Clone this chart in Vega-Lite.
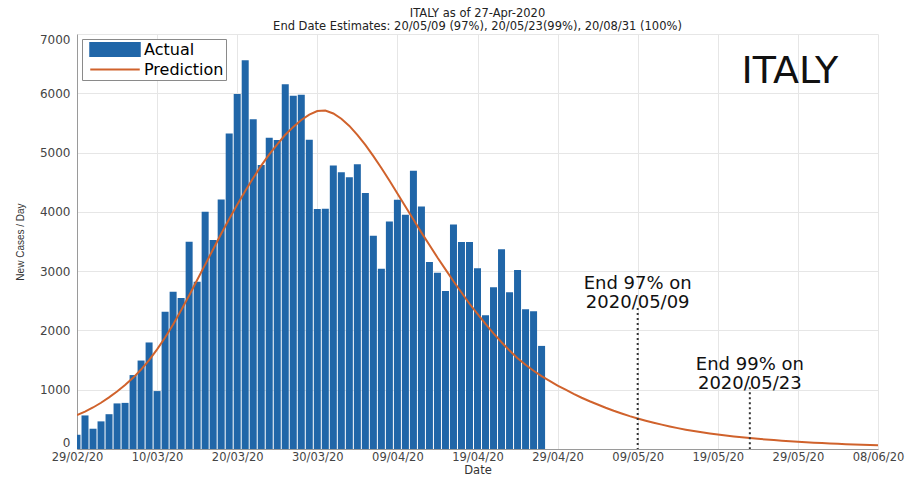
{
  "$schema": "https://vega.github.io/schema/vega-lite/v6.json",
  "width": 801,
  "height": 415,
  "autosize": "none",
  "padding": {"left": 77, "top": 34, "right": 33, "bottom": 28},
  "background": "white",
  "config": {"view": {"stroke": null}, "font": "DejaVu Sans"},
  "title": {
    "text": "ITALY as of 27-Apr-2020",
    "subtitle": "End Date Estimates: 20/05/09 (97%), 20/05/23(99%), 20/08/31 (100%)",
    "font": "DejaVu Sans", "subtitleFont": "DejaVu Sans",
    "fontSize": 11.5, "subtitleFontSize": 11.5,
    "fontWeight": "normal", "color": "#222", "subtitleColor": "#222",
    "anchor": "middle", "frame": "group", "offset": 1, "subtitlePadding": 1
  },
  "datasets": {
    "actual": [
      {"date": "2020-02-29", "cases": 240},
      {"date": "2020-03-01", "cases": 566},
      {"date": "2020-03-02", "cases": 342},
      {"date": "2020-03-03", "cases": 466},
      {"date": "2020-03-04", "cases": 587},
      {"date": "2020-03-05", "cases": 769},
      {"date": "2020-03-06", "cases": 778},
      {"date": "2020-03-07", "cases": 1247},
      {"date": "2020-03-08", "cases": 1492},
      {"date": "2020-03-09", "cases": 1797},
      {"date": "2020-03-10", "cases": 977},
      {"date": "2020-03-11", "cases": 2313},
      {"date": "2020-03-12", "cases": 2651},
      {"date": "2020-03-13", "cases": 2547},
      {"date": "2020-03-14", "cases": 3497},
      {"date": "2020-03-15", "cases": 2823},
      {"date": "2020-03-16", "cases": 4000},
      {"date": "2020-03-17", "cases": 3526},
      {"date": "2020-03-18", "cases": 4207},
      {"date": "2020-03-19", "cases": 5322},
      {"date": "2020-03-20", "cases": 5986},
      {"date": "2020-03-21", "cases": 6557},
      {"date": "2020-03-22", "cases": 5560},
      {"date": "2020-03-23", "cases": 4789},
      {"date": "2020-03-24", "cases": 5249},
      {"date": "2020-03-25", "cases": 5210},
      {"date": "2020-03-26", "cases": 6153},
      {"date": "2020-03-27", "cases": 5959},
      {"date": "2020-03-28", "cases": 5974},
      {"date": "2020-03-29", "cases": 5217},
      {"date": "2020-03-30", "cases": 4050},
      {"date": "2020-03-31", "cases": 4053},
      {"date": "2020-04-01", "cases": 4782},
      {"date": "2020-04-02", "cases": 4668},
      {"date": "2020-04-03", "cases": 4585},
      {"date": "2020-04-04", "cases": 4805},
      {"date": "2020-04-05", "cases": 4316},
      {"date": "2020-04-06", "cases": 3599},
      {"date": "2020-04-07", "cases": 3039},
      {"date": "2020-04-08", "cases": 3836},
      {"date": "2020-04-09", "cases": 4204},
      {"date": "2020-04-10", "cases": 3951},
      {"date": "2020-04-11", "cases": 4694},
      {"date": "2020-04-12", "cases": 4092},
      {"date": "2020-04-13", "cases": 3153},
      {"date": "2020-04-14", "cases": 2972},
      {"date": "2020-04-15", "cases": 2667},
      {"date": "2020-04-16", "cases": 3786},
      {"date": "2020-04-17", "cases": 3493},
      {"date": "2020-04-18", "cases": 3491},
      {"date": "2020-04-19", "cases": 3047},
      {"date": "2020-04-20", "cases": 2256},
      {"date": "2020-04-21", "cases": 2729},
      {"date": "2020-04-22", "cases": 3370},
      {"date": "2020-04-23", "cases": 2646},
      {"date": "2020-04-24", "cases": 3021},
      {"date": "2020-04-25", "cases": 2357},
      {"date": "2020-04-26", "cases": 2324},
      {"date": "2020-04-27", "cases": 1739}
    ],
    "pred": [
      {"date": "2020-02-29", "cases": 570},
      {"date": "2020-03-01", "cases": 630},
      {"date": "2020-03-02", "cases": 700},
      {"date": "2020-03-03", "cases": 780},
      {"date": "2020-03-04", "cases": 870},
      {"date": "2020-03-05", "cases": 970},
      {"date": "2020-03-06", "cases": 1080},
      {"date": "2020-03-07", "cases": 1200},
      {"date": "2020-03-08", "cases": 1340},
      {"date": "2020-03-09", "cases": 1500},
      {"date": "2020-03-10", "cases": 1680},
      {"date": "2020-03-11", "cases": 1880},
      {"date": "2020-03-12", "cases": 2100},
      {"date": "2020-03-13", "cases": 2340},
      {"date": "2020-03-14", "cases": 2590},
      {"date": "2020-03-15", "cases": 2850},
      {"date": "2020-03-16", "cases": 3110},
      {"date": "2020-03-17", "cases": 3370},
      {"date": "2020-03-18", "cases": 3630},
      {"date": "2020-03-19", "cases": 3880},
      {"date": "2020-03-20", "cases": 4120},
      {"date": "2020-03-21", "cases": 4350},
      {"date": "2020-03-22", "cases": 4570},
      {"date": "2020-03-23", "cases": 4780},
      {"date": "2020-03-24", "cases": 4970},
      {"date": "2020-03-25", "cases": 5140},
      {"date": "2020-03-26", "cases": 5300},
      {"date": "2020-03-27", "cases": 5430},
      {"date": "2020-03-28", "cases": 5550},
      {"date": "2020-03-29", "cases": 5640},
      {"date": "2020-03-30", "cases": 5700},
      {"date": "2020-03-31", "cases": 5710},
      {"date": "2020-04-01", "cases": 5660},
      {"date": "2020-04-02", "cases": 5570},
      {"date": "2020-04-03", "cases": 5450},
      {"date": "2020-04-04", "cases": 5300},
      {"date": "2020-04-05", "cases": 5130},
      {"date": "2020-04-06", "cases": 4940},
      {"date": "2020-04-07", "cases": 4740},
      {"date": "2020-04-08", "cases": 4530},
      {"date": "2020-04-09", "cases": 4310},
      {"date": "2020-04-10", "cases": 4090},
      {"date": "2020-04-11", "cases": 3870},
      {"date": "2020-04-12", "cases": 3650},
      {"date": "2020-04-13", "cases": 3440},
      {"date": "2020-04-14", "cases": 3230},
      {"date": "2020-04-15", "cases": 3030},
      {"date": "2020-04-16", "cases": 2830},
      {"date": "2020-04-17", "cases": 2640},
      {"date": "2020-04-18", "cases": 2450},
      {"date": "2020-04-19", "cases": 2280},
      {"date": "2020-04-20", "cases": 2110},
      {"date": "2020-04-21", "cases": 1950},
      {"date": "2020-04-22", "cases": 1800},
      {"date": "2020-04-23", "cases": 1660},
      {"date": "2020-04-24", "cases": 1530},
      {"date": "2020-04-25", "cases": 1420},
      {"date": "2020-04-26", "cases": 1320},
      {"date": "2020-04-27", "cases": 1230},
      {"date": "2020-04-28", "cases": 1150},
      {"date": "2020-04-29", "cases": 1070},
      {"date": "2020-04-30", "cases": 1000},
      {"date": "2020-05-01", "cases": 930},
      {"date": "2020-05-02", "cases": 865},
      {"date": "2020-05-03", "cases": 805},
      {"date": "2020-05-04", "cases": 750},
      {"date": "2020-05-05", "cases": 695},
      {"date": "2020-05-06", "cases": 645},
      {"date": "2020-05-07", "cases": 600},
      {"date": "2020-05-08", "cases": 555},
      {"date": "2020-05-09", "cases": 515},
      {"date": "2020-05-10", "cases": 478},
      {"date": "2020-05-11", "cases": 443},
      {"date": "2020-05-12", "cases": 411},
      {"date": "2020-05-13", "cases": 381},
      {"date": "2020-05-14", "cases": 352},
      {"date": "2020-05-15", "cases": 326},
      {"date": "2020-05-16", "cases": 302},
      {"date": "2020-05-17", "cases": 281},
      {"date": "2020-05-18", "cases": 262},
      {"date": "2020-05-19", "cases": 244},
      {"date": "2020-05-20", "cases": 227},
      {"date": "2020-05-21", "cases": 212},
      {"date": "2020-05-22", "cases": 198},
      {"date": "2020-05-23", "cases": 185},
      {"date": "2020-05-24", "cases": 172},
      {"date": "2020-05-25", "cases": 161},
      {"date": "2020-05-26", "cases": 150},
      {"date": "2020-05-27", "cases": 140},
      {"date": "2020-05-28", "cases": 131},
      {"date": "2020-05-29", "cases": 122},
      {"date": "2020-05-30", "cases": 114},
      {"date": "2020-05-31", "cases": 107},
      {"date": "2020-06-01", "cases": 100},
      {"date": "2020-06-02", "cases": 94},
      {"date": "2020-06-03", "cases": 88},
      {"date": "2020-06-04", "cases": 82},
      {"date": "2020-06-05", "cases": 77},
      {"date": "2020-06-06", "cases": 72},
      {"date": "2020-06-07", "cases": 68},
      {"date": "2020-06-08", "cases": 64}
    ],
    "ends": [
      {"date": "2020-05-09", "top": 2380, "base": 0},
      {"date": "2020-05-23", "top": 1040, "base": 0}
    ],
    "notes": [
      {"date": "2020-05-28", "cases": 6360, "label": "ITALY", "kind": "big"},
      {"date": "2020-05-09", "cases": 2790, "label": "End 97% on\n2020/05/09", "kind": "end"},
      {"date": "2020-05-23", "cases": 1420, "label": "End 99% on\n2020/05/23", "kind": "end"}
    ]
  },
  "layer": [
    {
      "data": {"name": "actual"},
      "mark": {"type": "bar", "width": 7, "clip": true},
      "encoding": {
        "x": {
          "field": "date", "type": "temporal",
          "scale": {"type": "utc", "padding": 0, "domain": [{"year": 2020, "month": 2, "date": 29, "utc": true}, {"year": 2020, "month": 6, "date": 8, "utc": true}]},
          "axis": {
            "title": "Date", "format": "%d/%m/%y",
            "values": [
              {"year": 2020, "month": 2, "date": 29, "utc": true},
              {"year": 2020, "month": 3, "date": 10, "utc": true},
              {"year": 2020, "month": 3, "date": 20, "utc": true},
              {"year": 2020, "month": 3, "date": 30, "utc": true},
              {"year": 2020, "month": 4, "date": 9, "utc": true},
              {"year": 2020, "month": 4, "date": 19, "utc": true},
              {"year": 2020, "month": 4, "date": 29, "utc": true},
              {"year": 2020, "month": 5, "date": 9, "utc": true},
              {"year": 2020, "month": 5, "date": 19, "utc": true},
              {"year": 2020, "month": 5, "date": 29, "utc": true},
              {"year": 2020, "month": 6, "date": 8, "utc": true}
            ],
            "grid": true, "gridColor": "#e6e6e6", "ticks": false,
            "domainColor": "#9a9a9a", "labelFont": "DejaVu Sans", "labelFontSize": 11.5,
            "labelColor": "#444", "labelPadding": 2, "labelFlush": false, "labelOverlap": false,
            "titleFont": "DejaVu Sans", "titleFontSize": 11.5, "titleFontWeight": "normal",
            "titleColor": "#333", "titlePadding": 2
          }
        },
        "y": {
          "field": "cases", "type": "quantitative",
          "scale": {"domain": [0, 7000], "nice": false},
          "axis": {
            "title": "New Cases / Day", "values": [0, 1000, 2000, 3000, 4000, 5000, 6000, 7000],
            "format": "d", "grid": true, "gridColor": "#e6e6e6", "ticks": false,
            "domainColor": "#9a9a9a", "labelFont": "DejaVu Sans", "labelFontSize": 12,
            "labelColor": "#444", "labelPadding": 7, "labelFlush": true, "labelFlushOffset": 0,
            "titleFont": "Liberation Sans", "titleFontSize": 10, "titleFontWeight": "normal",
            "titleColor": "#333", "titlePadding": 14
          }
        },
        "color": {
          "datum": "Actual",
          "scale": {"domain": ["Actual", "Prediction"], "range": ["#2066a8", "#d0622c"]},
          "legend": {
            "title": null, "orient": "top-left", "offset": 5,
            "fillColor": "white", "strokeColor": "#8a8a8a", "padding": 2,
            "labelFont": "DejaVu Sans", "labelFontSize": 16, "labelColor": "black",
            "symbolSize": 225, "labelOffset": 43, "rowPadding": 0,
            "encode": {
              "symbols": {
                "update": {
                  "shape": {"signal": "datum.value === 'Actual' ? 'M-0.3,-0.87H6.3V0.87H-0.3Z' : 'M-0.3,0H6.3'"},
                  "fill": {"signal": "datum.value === 'Actual' ? '#2066a8' : 'transparent'"},
                  "stroke": {"signal": "datum.value === 'Actual' ? '#2066a8' : '#d0622c'"},
                  "strokeWidth": {"value": 2},
                  "opacity": {"value": 1}
                }
              }
            }
          }
        }
      }
    },
    {
      "data": {"name": "pred"},
      "mark": {"type": "line", "strokeWidth": 2, "clip": true},
      "encoding": {
        "x": {"field": "date", "type": "temporal"},
        "y": {"field": "cases", "type": "quantitative"},
        "color": {"datum": "Prediction"}
      }
    },
    {
      "data": {"name": "ends"},
      "mark": {"type": "rule", "color": "#333", "strokeWidth": 2, "strokeDash": [2, 3]},
      "encoding": {
        "x": {"field": "date", "type": "temporal"},
        "y": {"field": "top", "type": "quantitative"},
        "y2": {"field": "base"}
      }
    },
    {
      "data": {"name": "notes"},
      "transform": [{"filter": "datum.kind === 'end'"}],
      "mark": {"type": "text", "font": "DejaVu Sans", "fontSize": 18, "lineHeight": 19, "lineBreak": "\n", "align": "center", "baseline": "middle", "color": "#111"},
      "encoding": {
        "x": {"field": "date", "type": "temporal"},
        "y": {"field": "cases", "type": "quantitative"},
        "text": {"field": "label"}
      }
    },
    {
      "data": {"name": "notes"},
      "transform": [{"filter": "datum.kind === 'big'"}],
      "mark": {"type": "text", "font": "DejaVu Sans", "fontSize": 38, "align": "center", "baseline": "middle", "color": "#111"},
      "encoding": {
        "x": {"field": "date", "type": "temporal"},
        "y": {"field": "cases", "type": "quantitative"},
        "text": {"field": "label"}
      }
    }
  ]
}
